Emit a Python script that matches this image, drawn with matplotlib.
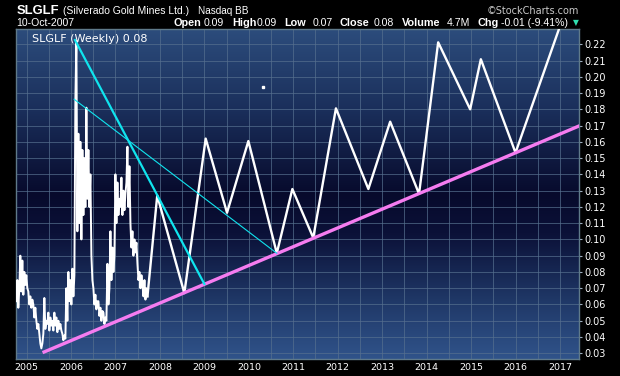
import numpy as np
import matplotlib.pyplot as plt
from matplotlib.colors import LinearSegmentedColormap

# weekly closes, Oct 2004 - Sep 2007
price = [0.062, 0.075, 0.058, 0.070, 0.090, 0.068, 0.087, 0.066,
         0.080, 0.072, 0.078, 0.070, 0.068, 0.060, 0.065, 0.058, 0.063,
         0.060, 0.052, 0.058, 0.050, 0.045, 0.048,
         0.042, 0.036, 0.033, 0.036, 0.042, 0.064, 0.045, 0.050,
         0.048, 0.055, 0.044, 0.052, 0.047,
         0.050, 0.044, 0.055, 0.047, 0.052, 0.043, 0.050, 0.045, 0.048, 0.044,
         0.042, 0.038, 0.041, 0.039, 0.070, 0.050,
         0.080, 0.062, 0.075, 0.060, 0.082, 0.065, 0.078,
         0.186, 0.222,
         0.105, 0.165, 0.110, 0.160, 0.100, 0.155, 0.115, 0.150, 0.120, 0.181,
         0.125, 0.155, 0.120, 0.140,
         0.090, 0.075, 0.070, 0.060, 0.066, 0.057, 0.062,
         0.062, 0.053, 0.058, 0.050, 0.056, 0.055, 0.048, 0.052, 0.050,
         0.085, 0.060, 0.070, 0.105, 0.075, 0.095, 0.080, 0.090,
         0.140, 0.110, 0.135, 0.115, 0.125,
         0.120, 0.138, 0.115, 0.130, 0.118, 0.128, 0.135, 0.157,
         0.120, 0.145, 0.110, 0.095, 0.105, 0.090, 0.100, 0.092, 0.098,
         0.085, 0.075, 0.080, 0.070, 0.078, 0.072,
         0.065, 0.075, 0.063, 0.070, 0.065]
price_start, price_end = 2004.77, 2007.72

# hand drawn projection
proj_x = [2007.72, 2007.94, 2008.55, 2009.03, 2009.51, 2009.99, 2010.63, 2010.98,
          2011.45, 2011.96, 2012.69, 2013.18, 2013.83, 2014.26, 2014.98, 2015.22,
          2016.00, 2017.05]
proj_y = [0.065, 0.127, 0.067, 0.162, 0.1164, 0.1605, 0.0915, 0.131,
          0.101, 0.1806, 0.131, 0.1724, 0.128, 0.2212, 0.180, 0.2108,
          0.1533, 0.235]

support_x = [2005.36, 2017.45]
support_y = [0.0304, 0.170]
cyan_thick_x = [2006.09, 2009.00]
cyan_thick_y = [0.2226, 0.0726]
cyan_thin_x = [2006.07, 2010.63]
cyan_thin_y = [0.1862, 0.0915]
dot_x, dot_y = 2010.32, 0.1937

years = list(range(2005, 2018))
yticks = [round(0.03 + 0.01 * i, 2) for i in range(20)]

x0, x1 = 2004.756, 2017.435
y0, y1 = 0.0263, 0.2292

fig = plt.figure(figsize=(6.2, 3.76), dpi=100, facecolor='black')
ax = fig.add_axes([15.7 / 620, 1 - 359.3 / 376, (579.3 - 15.7) / 620, (359.3 - 29.3) / 376])

# background gradient (light top, dark middle, light bottom)
cmap = LinearSegmentedColormap.from_list('bg', [
    (0.0, '#2c4c7c'), (0.25, '#1a2e5a'), (0.5, '#070a2c'),
    (0.62, '#0b1138'), (0.82, '#1f3766'), (1.0, '#30538a')])
grad = np.linspace(0, 1, 256).reshape(-1, 1)
ax.imshow(grad, extent=[x0, x1, y0, y1], origin='upper', aspect='auto', cmap=cmap, zorder=0)

ax.set_xlim(x0, x1)
ax.set_ylim(y0, y1)

px = np.linspace(price_start, price_end, len(price))
ax.plot(px, price, color='white', lw=1.4, zorder=3)
ax.plot(proj_x, proj_y, color='white', lw=1.7, zorder=3)
ax.plot(support_x, support_y, color='#f57cf0', lw=2.4, zorder=4, solid_capstyle='butt')
ax.plot(cyan_thick_x, cyan_thick_y, color='#10e4ee', lw=1.6, zorder=4)
ax.plot(cyan_thin_x, cyan_thin_y, color='#10e4ee', lw=0.8, zorder=4)
ax.plot([dot_x], [dot_y], 's', color='white', ms=1.8, zorder=4)

ax.set_xticks(years)
ax.set_xticklabels([str(y) for y in years])
ax.set_xticks(np.arange(2005.5, 2017.5, 1.0), minor=True)
ax.set_yticks(yticks)
ax.set_yticklabels(['%.2f' % v for v in yticks])
ax.yaxis.tick_right()
ax.grid(True, which='both', color='#56708f', lw=0.7, alpha=0.7)
ax.set_axisbelow(True)
ax.tick_params(axis='y', colors='#a0b0c0', labelcolor='white', length=2.5, width=0.8,
               labelsize=7, pad=1)
ax.tick_params(axis='x', which='both', length=0, labelcolor='white', labelsize=6.8, pad=3)
for s in ax.spines.values():
    s.set_color('#5f7a8a')
    s.set_linewidth(1)

ax.text(0.029, 0.985, 'SLGLF (Weekly) 0.08', transform=ax.transAxes, color='white',
        fontsize=8, va='top', ha='left', zorder=6)


def txt(x, y, s, **kw):
    fig.text(x / 620, 1 - y / 376, s, va='baseline', ha='left', color='white',
             family='Liberation Sans', **kw)


txt(16.5, 14.5, 'SLGLF', fontsize=9.4, weight='bold')
txt(63, 14.5, '(Silverado Gold Mines Ltd.)', fontsize=7.5)
txt(198, 14.5, 'Nasdaq BB', fontsize=7.2)
fig.text(579 / 620, 1 - 13.5 / 376, '\u00a9StockCharts.com', ha='right', va='baseline',
         color='#c8c8c8', fontsize=7.0, family='DejaVu Sans')
txt(16.5, 26.5, '10-Oct-2007', fontsize=7.6)

parts = [(173, 'Open', True), (204, '0.09', False), (232, 'High', True),
         (257, '0.09', False), (284, 'Low', True), (313, '0.07', False),
         (340, 'Close', True), (374, '0.08', False), (402, 'Volume', True),
         (447, '4.7M', False), (478, 'Chg', True), (501, '-0.01 (-9.41%)', False)]
for x, s, b in parts:
    txt(x, 26.5, s, fontsize=7.8 if b else 7.6, weight='bold' if b else 'normal')
fig.text(575.5 / 620, 1 - 25 / 376, '\u25bc', ha='center', va='baseline',
         color='#30e0b0', fontsize=5.5, family='DejaVu Sans')

fig.savefig('out.png', dpi=100, facecolor='black')
